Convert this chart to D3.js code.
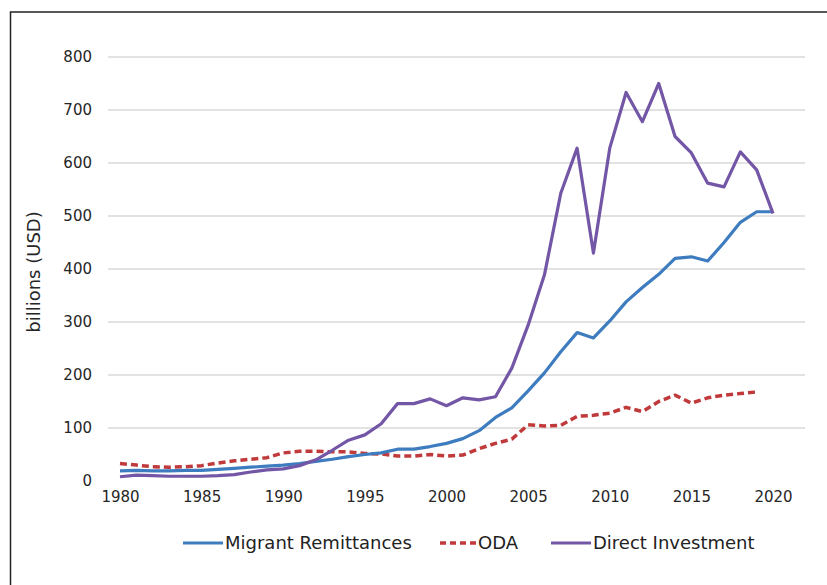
<!DOCTYPE html>
<html>
<head>
<meta charset="utf-8">
<script src="https://cdn.jsdelivr.net/npm/d3@7"></script>
<style>
  body { margin: 0; background: #fff; }
  svg { display: block; }
  .tick text { font-family: 'DejaVu Sans', sans-serif; fill: #262626; }
</style>
</head>
<body>
<div id="chart"></div>
<script>
'use strict';

var years = d3.range(1980, 2021);

// billions (USD)
var remittances = [19, 20, 19, 19, 20, 20, 22, 24, 26, 28, 30, 33, 37, 41, 46, 50, 53, 60, 60, 65, 71, 80, 95, 120, 138, 170, 204, 244, 280, 270, 302, 338, 365, 390, 420, 423, 415, 450, 488, 508, 508];
var oda = [33, 30, 27, 26, 27, 29, 34, 38, 41, 44, 53, 56, 56, 55, 55, 52, 51, 47, 47, 50, 47, 49, 61, 71, 79, 106, 104, 105, 122, 124, 128, 139, 131, 150, 162, 147, 157, 162, 165, 168];
var fdi = [8, 11, 10, 9, 9, 9, 10, 12, 17, 21, 23, 29, 40, 58, 77, 87, 108, 146, 146, 155, 142, 157, 153, 159, 213, 294, 389, 543, 628, 430, 628, 733, 678, 750, 650, 619, 562, 555, 621, 587, 505];

var yTicks = [0, 100, 200, 300, 400, 500, 600, 700, 800];
var xTicks = [1980, 1985, 1990, 1995, 2000, 2005, 2010, 2015, 2020];

var series = [
  { name: 'Migrant Remittances', values: remittances, color: '#3e7cc0', dash: null },
  { name: 'ODA', values: oda, color: '#c0393b', dash: '7,4' },
  { name: 'Direct Investment', values: fdi, color: '#7356a6', dash: null }
];

var width = 827, height = 585;

var svg = d3.select('#chart')
  .append('svg')
  .attr('width', width)
  .attr('height', height);

// outer frame (runs off the right and bottom edges)
svg.append('rect')
  .attr('x', 10.5)
  .attr('y', 12)
  .attr('width', 900)
  .attr('height', 700)
  .attr('fill', 'none')
  .attr('stroke', '#222')
  .attr('stroke-width', 1.5);

var x = d3.scaleLinear().domain([1980, 2020]).range([120, 773]);
var y = d3.scaleLinear().domain([0, 800]).range([481, 57]);

// gridlines
svg.append('g')
  .selectAll('line')
  .data(yTicks.slice(1))
  .enter()
  .append('line')
  .attr('x1', 108)
  .attr('x2', 805)
  .attr('y1', function (d) { return y(d); })
  .attr('y2', function (d) { return y(d); })
  .attr('stroke', '#d9d9d9')
  .attr('stroke-width', 1.5);

var yAxis = svg.append('g')
  .attr('transform', 'translate(100,0)')
  .call(d3.axisLeft(y).tickValues(yTicks).tickSize(0).tickPadding(8));
yAxis.select('.domain').remove();
yAxis.selectAll('text').style('font-size', '15px');

var xAxis = svg.append('g')
  .attr('transform', 'translate(0,488)')
  .call(d3.axisBottom(x).tickValues(xTicks).tickFormat(d3.format('d')).tickSize(0).tickPadding(3));
xAxis.select('.domain').remove();
xAxis.selectAll('text').style('font-size', '15px');

svg.append('text')
  .attr('transform', 'translate(40,272) rotate(-90)')
  .attr('text-anchor', 'middle')
  .style('font-family', "'DejaVu Sans', sans-serif")
  .style('font-size', '18px')
  .style('fill', '#262626')
  .text('billions (USD)');

var line = d3.line()
  .x(function (d, i) { return x(years[i]); })
  .y(function (d) { return y(d); });

// draw ODA first, then remittances, then investment on top
[series[1], series[0], series[2]].forEach(function (s) {
  svg.append('path')
    .datum(s.values)
    .attr('d', line)
    .attr('fill', 'none')
    .attr('stroke', s.color)
    .attr('stroke-width', s.dash ? 3.5 : 3.2)
    .attr('stroke-linejoin', 'round')
    .attr('stroke-dasharray', s.dash);
});

// legend
var legendX = [183, 440, 551];
var legend = svg.append('g')
  .selectAll('g')
  .data(series)
  .enter()
  .append('g')
  .attr('transform', function (d, i) { return 'translate(' + legendX[i] + ',543)'; });

legend.append('line')
  .attr('x1', 0)
  .attr('x2', function (d) { return d.dash ? 36 : 40; })
  .attr('stroke', function (d) { return d.color; })
  .attr('stroke-width', function (d) { return d.dash ? 3.5 : 3.2; })
  .attr('stroke-dasharray', function (d) { return d.dash ? '6,4' : null; });

legend.append('text')
  .attr('x', function (d) { return d.dash ? 38 : 42; })
  .attr('dy', '0.35em')
  .style('font-family', "'DejaVu Sans', sans-serif")
  .style('font-size', '18px')
  .style('fill', '#222')
  .text(function (d) { return d.name; });
</script>
</body>
</html>
